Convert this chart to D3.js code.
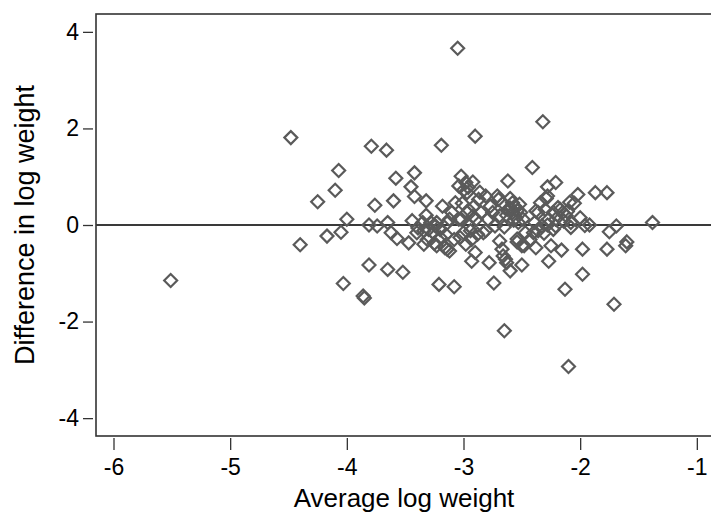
<!DOCTYPE html>
<html>
<head>
<meta charset="utf-8">
<script src="https://cdn.jsdelivr.net/npm/d3@7"></script>
<style>
  html, body { margin: 0; padding: 0; background: #fff; }
  svg { display: block; font-family: "Liberation Sans", Arial, sans-serif; }
</style>
</head>
<body>
<svg id="chart" width="711" height="512"></svg>
<script>
// average log weight (x) and difference in log weight (y)
const avgLogWeight = [
  -5.51, -4.48, -4.40, -4.25, -4.17, -4.10, -4.07, -4.05, -4.00, -4.03,
  -3.86, -3.85, -3.81, -3.81, -3.79, -3.76, -3.74, -3.66, -3.65, -3.65,
  -3.62, -3.60, -3.58, -3.57, -3.52, -3.47, -3.45, -3.44, -3.42, -3.42,
  -3.40, -3.39, -3.34, -3.32, -3.32, -3.30, -3.26, -3.24, -3.23, -3.21,
  -3.20, -3.19, -3.18, -3.16, -3.14, -3.12, -3.10, -3.08, -3.07, -3.08,
  -3.05, -3.04, -3.02, -3.02, -3.01, -3.00, -2.98, -2.98, -2.97, -2.97,
  -2.95, -2.93, -2.93, -2.92, -2.91, -2.90, -2.90, -2.89, -2.87, -2.85,
  -2.83, -2.81, -2.79, -2.78, -2.77, -2.75, -2.74, -2.73, -2.71, -2.70,
  -2.69, -2.69, -2.67, -2.66, -2.65, -2.65, -2.63, -2.62, -2.62, -2.60,
  -2.58, -2.58, -2.56, -2.55, -2.54, -2.52, -2.50, -2.49, -2.48, -2.47,
  -2.41, -2.40, -2.39, -2.38, -2.36, -2.34, -2.33, -2.32, -2.31, -2.30,
  -2.28, -2.28, -2.27, -2.27, -2.25, -2.23, -2.21, -2.21, -2.19, -2.16,
  -2.15, -2.13, -2.12, -2.10, -2.08, -2.05, -2.02, -2.00, -1.98, -1.98,
  -1.96, -1.87, -1.77, -1.77, -1.75, -1.71, -1.69, -1.61, -1.60, -1.38,
  -3.34, -3.31, -3.25, -3.03, -2.94, -2.88, -3.23, -3.14, -3.00, -2.96,
  -3.12, -3.04, -2.95, -2.92, -2.29, -2.09, -2.38, -2.17, -2.11, -1.92,
  -2.86, -2.66, -2.63, -2.60, -2.57, -2.54, -2.51, -2.53, -2.60, -2.28,
  -2.21, -2.14, -2.81, -2.64, -2.54, -2.50, -2.43, -2.36, -2.23, -2.08,
  -3.28, -3.20, -3.35, -3.15
];

const diffLogWeight = [
  -1.15,  1.81, -0.41,  0.48, -0.23,  0.72,  1.13, -0.15,  0.12, -1.21,
  -1.47, -1.51, -0.83,  0.00,  1.63,  0.41, -0.02,  1.55,  0.05, -0.92,
  -0.16,  0.50,  0.97, -0.28, -0.98, -0.37,  0.79,  0.09,  1.08,  0.59,
  -0.16, -0.06, -0.40,  0.50,  0.20, -0.09, -0.16, -0.02, -0.43, -1.23,
  -0.26,  1.65,  0.39, -0.47, -0.50, -0.54,  0.26, -1.28,  0.46, -0.30,
   3.66,  0.81,  1.01,  0.12,  0.45, -0.16,  0.88, -0.40,  0.67,  0.26,
  -0.02, -0.75, -0.30,  0.89,  0.39,  1.84, -0.57,  0.12,  0.53,  0.26,
  -0.16,  0.60,  0.12, -0.78,  0.39,  0.26, -1.20, -0.02,  0.60,  0.53,
   0.19, -0.33, -0.50, -0.64, -2.19, -0.04, -0.78,  0.91,  0.32, -0.95,
   0.46,  0.26,  0.39,  0.15, -0.35,  0.43, -0.83,  0.12, -0.43, -0.16,
   1.19, -0.16,  0.05, -0.47,  0.26,  0.46, -0.02,  2.14, -0.17,  0.32,
   0.60,  0.79, -0.75,  0.12, -0.43,  0.26,  0.88, -0.02,  0.36, -0.52,
   0.26, -1.33,  0.19, -2.93,  0.05,  0.45,  0.63,  0.15, -0.50, -1.02,
  -0.01,  0.67,  0.67, -0.50, -0.14, -1.64, -0.02, -0.43, -0.35,  0.05,
  -0.12, -0.30, -0.38, -0.26, -0.12, -0.19,  0.05,  0.04,  0.72,  0.78,
   0.12,  0.12,  0.30,  0.18,  0.55,  0.47,  0.29,  0.32,  0.28,  0.00,
   0.68,  0.45,  0.20,  0.55,  0.10,  0.30,  0.26,  0.05,  0.35,  0.00,
   0.12,  0.08, -0.12, -0.71, -0.29, -0.43, -0.30, -0.12, -0.09, -0.05,
   0.05, -0.10,  0.05, -0.20
];

const xTicks = [-6, -5, -4, -3, -2, -1];
const yTicks = [-4, -2, 0, 2, 4];
const xTitle = 'Average log weight';
const yTitle = 'Difference in log weight';

const plot = { left: 96, top: 14, right: 712, bottom: 436 };
const markColor = '#5a5a5a';
const axisColor = '#333';

const svg = d3.select('#chart');

const x = d3.scaleLinear().domain([-6.15, -0.87]).range([plot.left, plot.right]);
const y = d3.scaleLinear().domain([-4.37, 4.37]).range([plot.bottom, plot.top]);

// plain hyphen for negatives, like the source graph
const tickLabel = (d) => String(d);

// plot frame
svg.append('rect')
  .attr('x', plot.left)
  .attr('y', plot.top)
  .attr('width', plot.right - plot.left)
  .attr('height', plot.bottom - plot.top)
  .attr('fill', '#fff')
  .attr('stroke', axisColor)
  .attr('stroke-width', 1.6);

// axes sit a little away from the frame, as Stata draws them
const xAxis = svg.append('g')
  .attr('transform', `translate(0,${plot.bottom + 2})`)
  .call(d3.axisBottom(x).tickValues(xTicks).tickSize(12).tickPadding(9).tickFormat(tickLabel));

const yAxis = svg.append('g')
  .attr('transform', `translate(${plot.left - 3},0)`)
  .call(d3.axisLeft(y).tickValues(yTicks).tickSize(10).tickPadding(4).tickFormat(tickLabel));

[xAxis, yAxis].forEach((axis) => {
  axis.select('.domain').remove();
  axis.selectAll('line').attr('stroke', axisColor).attr('stroke-width', 1.3);
  axis.selectAll('text')
    .attr('fill', '#000')
    .style('font-size', '23px')
    .style('font-family', '"Liberation Sans", Arial, sans-serif');
});
xAxis.selectAll('text').attr('dy', '0.71em');

// zero reference line
svg.append('line')
  .attr('x1', plot.left)
  .attr('x2', plot.right)
  .attr('y1', y(0))
  .attr('y2', y(0))
  .attr('stroke', '#3a3a3a')
  .attr('stroke-width', 2);

// hollow diamond markers
const diamond = {
  draw(context, size) {
    const r = Math.sqrt(size / 2);
    context.moveTo(0, -r);
    context.lineTo(r, 0);
    context.lineTo(0, r);
    context.lineTo(-r, 0);
    context.closePath();
  }
};

const points = avgLogWeight.map((value, i) => ({ x: value, y: diffLogWeight[i] }));

svg.append('g')
  .selectAll('path')
  .data(points)
  .join('path')
  .attr('transform', (d) => `translate(${x(d.x)},${y(d.y)})`)
  .attr('d', d3.symbol().type(diamond).size(84))
  .attr('fill', 'none')
  .attr('stroke', markColor)
  .attr('stroke-width', 2.2);

// axis titles
svg.append('text')
  .attr('x', 404)
  .attr('y', 507)
  .attr('text-anchor', 'middle')
  .style('font-size', '26px')
  .text(xTitle);

svg.append('text')
  .attr('transform', `translate(34,${(plot.top + plot.bottom) / 2}) rotate(-90)`)
  .attr('text-anchor', 'middle')
  .style('font-size', '27px')
  .text(yTitle);
</script>
</body>
</html>
